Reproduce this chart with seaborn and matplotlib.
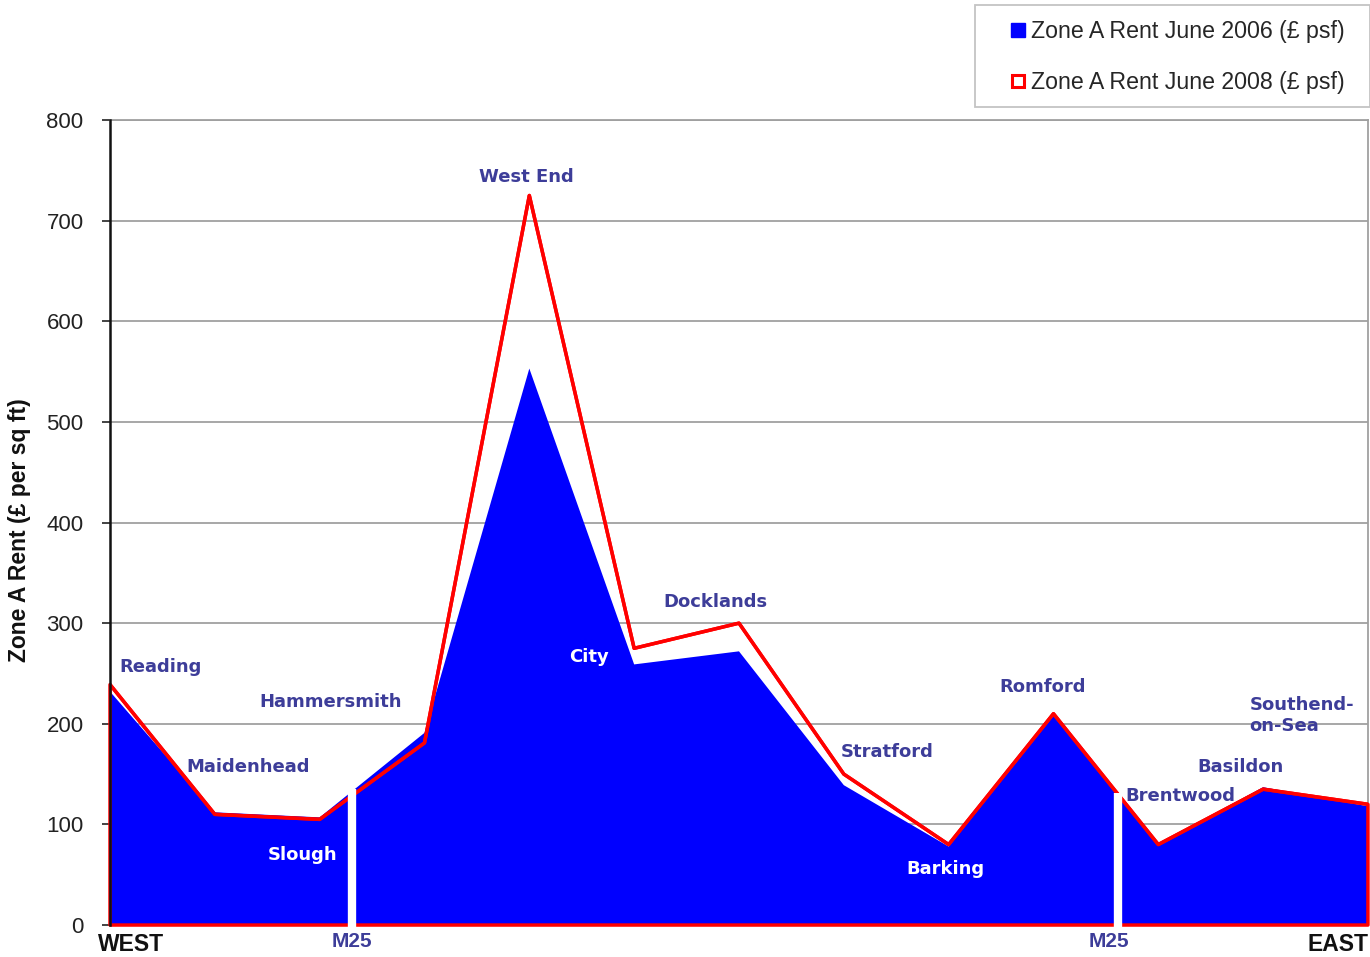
import numpy as np
import pandas as pd
import matplotlib
matplotlib.use("Agg")
import matplotlib.pyplot as plt
import matplotlib.transforms as mtransforms
from matplotlib.lines import Line2D
from matplotlib.patches import Rectangle
import seaborn as sns

# ---------------- data ----------------
categories = ['Reading', 'Maidenhead', 'Slough', 'Hammersmith', 'West End', 'City',
              'Docklands', 'Stratford', 'Barking', 'Romford', 'Brentwood', 'Basildon',
              'Southend-on-Sea']
rent_2006 = [232, 112, 107, 191, 553, 259, 272, 139, 78, 208, 80, 137, 118]
rent_2008 = [239, 110, 105, 181, 725, 275, 300, 150, 80, 210, 80, 135, 120]
m25_positions = [2.31, 9.62]
y_ticks = [0, 100, 200, 300, 400, 500, 600, 700, 800]
series_labels = ['Zone A Rent June 2006 (£ psf)', 'Zone A Rent June 2008 (£ psf)']

# place labels
place_labels = ['Reading', 'Maidenhead', 'Hammersmith', 'Slough', 'West End', 'City',
                'Docklands', 'Stratford', 'Barking', 'Romford', 'Brentwood', 'Basildon',
                'Southend-\non-Sea']
label_x = [0.48, 1.32, 2.10, 1.84, 3.97, 4.57, 5.78, 7.41, 7.97, 8.90, 10.21, 10.78, 10.87]
label_y = [256, 157, 222, 70, 743, 266, 321, 172, 56, 237, 128, 157, 208]
label_white = [False, False, False, True, False, True, False, False, True, False, False, False, False]

df = pd.DataFrame({'pos': np.arange(len(categories)), 'place': categories,
                   'r2006': rent_2006, 'r2008': rent_2008})

# ---------------- style ----------------
sns.set_theme(style='white')
plt.rcParams['font.family'] = ['DejaVu Sans']

BLUE = '#0000ff'
RED = '#ff0000'
LABEL = '#3d3d99'

fig = plt.figure(figsize=(13.7, 9.57), dpi=100)
ax = fig.add_axes([0.0803, 0.0334, 0.9182, 0.8412])

# blue 2006 area
ax.fill_between(df['pos'], df['r2006'], 0, facecolor=BLUE, edgecolor='none', zorder=2)

# red 2008 outline polygon (bottom + right edge) and line
ax.fill_between(df['pos'], df['r2008'], 0, facecolor='none', edgecolor=RED,
                linewidth=2.5, zorder=3, clip_on=False)
sns.lineplot(data=df, x='pos', y='r2008', color=RED, linewidth=2.5, ax=ax,
             zorder=4, legend=False)

# M25 white cuts
top_vals = np.maximum(df['r2006'].values, df['r2008'].values)
for p in m25_positions:
    h = np.interp(p, df['pos'].values, top_vals) + 2
    ax.vlines(p, -3, h, color='white', linewidth=6, zorder=5, clip_on=False)

# axes
ax.set_xlim(0, len(categories) - 1)
ax.set_ylim(0, 800)
ax.set_yticks(y_ticks)
ax.set_yticklabels([str(v) for v in y_ticks], family='Liberation Sans', fontsize=16,
                   color='#222222')
ax.set_xticks([])
ax.yaxis.grid(True, color='#a0a0a0', linewidth=1.3, zorder=0)
ax.set_axisbelow(True)
ax.tick_params(axis='y', which='major', left=True, length=6, width=1.2, color='#222222', pad=13)
ax.spines['left'].set_color('#111111')
ax.spines['left'].set_linewidth(1.8)
ax.spines['left'].set_zorder(6)
ax.spines['top'].set_color('#a0a0a0')
ax.spines['top'].set_linewidth(1.3)
ax.spines['right'].set_color('#a0a0a0')
ax.spines['right'].set_linewidth(1.3)
ax.spines['bottom'].set_color('#111111')
ax.set_xlabel('')
ax.set_ylabel('Zone A Rent (£ per sq ft)', family='Liberation Sans', fontsize=16.5,
              fontweight='bold', color='#111111')
ax.yaxis.set_label_coords(-0.063, 0.49)

# place labels
for t, x, y, w in zip(place_labels, label_x, label_y, label_white):
    ax.text(x, y, t, ha='left' if '\n' in t else 'center', va='center',
            fontsize=13, fontweight='bold', color='white' if w else LABEL,
            zorder=7, linespacing=1.2)

# bottom labels
trans = mtransforms.blended_transform_factory(ax.transData, ax.transAxes)
ax.text(0.2, -0.024, 'WEST', transform=trans, ha='center', va='center',
        family='Liberation Sans', fontsize=16.5, fontweight='bold', color='#111111')
ax.text(11.71, -0.024, 'EAST', transform=trans, ha='center', va='center',
        family='Liberation Sans', fontsize=16.5, fontweight='bold', color='#111111')
for p in m25_positions:
    ax.text(p - (0.09 if p > 5 else 0), -0.021, 'M25', transform=trans, ha='center',
            va='center', family='Liberation Sans', fontsize=15, fontweight='bold', color=LABEL)

# legend frame
fig.patches.append(Rectangle((975 / 1370, 1 - 107 / 957), 395 / 1370, 102 / 957,
                             transform=fig.transFigure, facecolor='white',
                             edgecolor='#c4c4c4', linewidth=1.3, zorder=0))
handles = [Line2D([], [], linestyle='none', marker='s', markersize=10,
                  markerfacecolor=BLUE, markeredgecolor=BLUE),
           Line2D([], [], linestyle='none', marker='s', markersize=9,
                  markerfacecolor='white', markeredgecolor=RED, markeredgewidth=2.2)]
leg = fig.legend(handles, series_labels, loc='center left',
                 bbox_to_anchor=(1009 / 1370, 1 - 57 / 957), frameon=False,
                 prop={'family': 'Liberation Sans', 'size': 16.7}, handlelength=0.8,
                 handletextpad=0.15, labelspacing=1.2, borderpad=0, borderaxespad=0)

fig.savefig('out.png', dpi=100, facecolor='white')
